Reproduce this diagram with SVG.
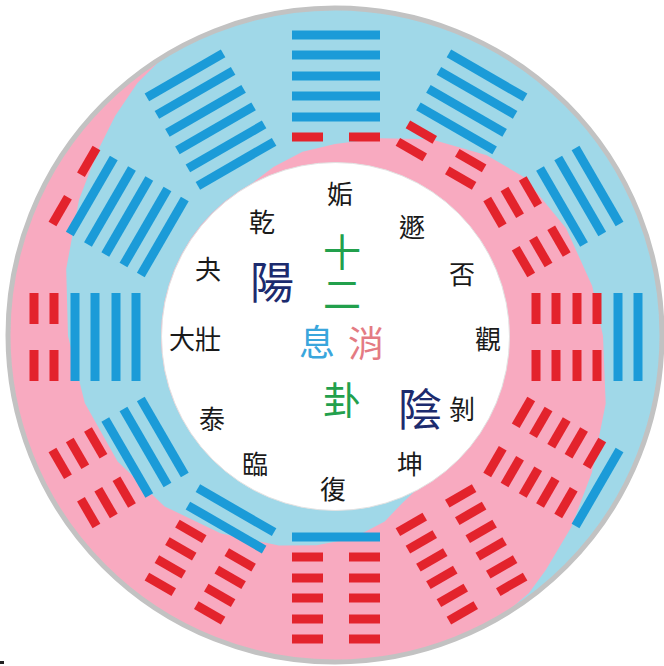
<svg xmlns="http://www.w3.org/2000/svg" xmlns:xlink="http://www.w3.org/1999/xlink" width="664" height="666" viewBox="0 0 664 666">
<style>
.yang{fill:#1b9bd8}
.yin{fill:#e3232c}
.name{font-family:"Noto Sans CJK TC","Noto Sans CJK SC",sans-serif;font-size:26px;fill:#1a1a1a;text-anchor:middle;dominant-baseline:central}
.big{font-family:"Noto Sans CJK TC","Noto Sans CJK SC",sans-serif;text-anchor:middle;dominant-baseline:central}
.green{fill:#22a04c;font-size:38px}
.navy{fill:#1c2b6e;font-size:44px}
</style>
<defs>
<rect id="yangbar" x="-44" y="-4.5" width="88" height="9"/>
<g id="yinbar"><rect x="-44" y="-4.5" width="31" height="9"/><rect x="13" y="-4.5" width="31" height="9"/></g>
</defs>
<rect x="0" y="0" width="664" height="666" fill="#ffffff"/>
<g id="ring">
<circle cx="335" cy="335" r="327" fill="#f8aac0"/>
<path fill="#a0d8e8" d="M416.7,489.6 L402.4,502.9 L384.7,521.5 L352.7,538.2 L316.7,545.2 L278.8,545.6 L221,533.4 L164.6,506.4 L117.6,461.5 L84.8,403.0 L68,336 L66.2,269.0 L79.0,199.8 L97.8,150.7 L115.1,116.1 L137.4,83.0 L161.7,58.7 A327 327 0 0 1 618.2,172.5 A327 327 0 0 1 498.5,619.2 L528.8,593.2 L545.8,570.1 L571.2,527.3 L591.9,472.6 L605.7,403.5 L603,336 L592.2,286.0 L566.1,228.2 L524.2,177.2 L486.7,155.2 L431.0,139.2 L380.7,138.2 L335,144 L302.5,151.8 L273.4,166.9 L253.3,182.4 A174 174 0 0 0 181.4,417.7 A174 174 0 0 0 416.7,489.6 Z"/>
<circle cx="335.5" cy="336.5" r="174" fill="#ffffff" stroke="#e2e2e2" stroke-width="1"/>
<circle cx="335" cy="335" r="327" fill="none" stroke="#c2c2c2" stroke-width="5"/>
</g>
<g id="hex-gou" transform="translate(336 337)">
<use xlink:href="#yinbar" class="yin" y="-200"/><use xlink:href="#yangbar" class="yang" y="-220"/><use xlink:href="#yangbar" class="yang" y="-241"/><use xlink:href="#yangbar" class="yang" y="-261"/><use xlink:href="#yangbar" class="yang" y="-282"/><use xlink:href="#yangbar" class="yang" y="-302"/>
</g>
<g id="hex-dun" transform="translate(336 337) rotate(30)">
<use xlink:href="#yinbar" class="yin" y="-200"/><use xlink:href="#yinbar" class="yin" y="-220"/><use xlink:href="#yangbar" class="yang" y="-241"/><use xlink:href="#yangbar" class="yang" y="-261"/><use xlink:href="#yangbar" class="yang" y="-282"/><use xlink:href="#yangbar" class="yang" y="-302"/>
</g>
<g id="hex-pi" transform="translate(336 337) rotate(60)">
<use xlink:href="#yinbar" class="yin" y="-200"/><use xlink:href="#yinbar" class="yin" y="-220"/><use xlink:href="#yinbar" class="yin" y="-241"/><use xlink:href="#yangbar" class="yang" y="-261"/><use xlink:href="#yangbar" class="yang" y="-282"/><use xlink:href="#yangbar" class="yang" y="-302"/>
</g>
<g id="hex-guan" transform="translate(336 337) rotate(90)">
<use xlink:href="#yinbar" class="yin" y="-200"/><use xlink:href="#yinbar" class="yin" y="-220"/><use xlink:href="#yinbar" class="yin" y="-241"/><use xlink:href="#yinbar" class="yin" y="-261"/><use xlink:href="#yangbar" class="yang" y="-282"/><use xlink:href="#yangbar" class="yang" y="-302"/>
</g>
<g id="hex-bo" transform="translate(336 337) rotate(120)">
<use xlink:href="#yinbar" class="yin" y="-200"/><use xlink:href="#yinbar" class="yin" y="-220"/><use xlink:href="#yinbar" class="yin" y="-241"/><use xlink:href="#yinbar" class="yin" y="-261"/><use xlink:href="#yinbar" class="yin" y="-282"/><use xlink:href="#yangbar" class="yang" y="-302"/>
</g>
<g id="hex-kun" transform="translate(336 337) rotate(150)">
<use xlink:href="#yinbar" class="yin" y="-200"/><use xlink:href="#yinbar" class="yin" y="-220"/><use xlink:href="#yinbar" class="yin" y="-241"/><use xlink:href="#yinbar" class="yin" y="-261"/><use xlink:href="#yinbar" class="yin" y="-282"/><use xlink:href="#yinbar" class="yin" y="-302"/>
</g>
<g id="hex-fu" transform="translate(336 337) rotate(180)">
<use xlink:href="#yangbar" class="yang" y="-200"/><use xlink:href="#yinbar" class="yin" y="-220"/><use xlink:href="#yinbar" class="yin" y="-241"/><use xlink:href="#yinbar" class="yin" y="-261"/><use xlink:href="#yinbar" class="yin" y="-282"/><use xlink:href="#yinbar" class="yin" y="-302"/>
</g>
<g id="hex-lin" transform="translate(336 337) rotate(210)">
<use xlink:href="#yangbar" class="yang" y="-200"/><use xlink:href="#yangbar" class="yang" y="-220"/><use xlink:href="#yinbar" class="yin" y="-241"/><use xlink:href="#yinbar" class="yin" y="-261"/><use xlink:href="#yinbar" class="yin" y="-282"/><use xlink:href="#yinbar" class="yin" y="-302"/>
</g>
<g id="hex-tai" transform="translate(336 337) rotate(240)">
<use xlink:href="#yangbar" class="yang" y="-200"/><use xlink:href="#yangbar" class="yang" y="-220"/><use xlink:href="#yangbar" class="yang" y="-241"/><use xlink:href="#yinbar" class="yin" y="-261"/><use xlink:href="#yinbar" class="yin" y="-282"/><use xlink:href="#yinbar" class="yin" y="-302"/>
</g>
<g id="hex-dazhuang" transform="translate(336 337) rotate(270)">
<use xlink:href="#yangbar" class="yang" y="-200"/><use xlink:href="#yangbar" class="yang" y="-220"/><use xlink:href="#yangbar" class="yang" y="-241"/><use xlink:href="#yangbar" class="yang" y="-261"/><use xlink:href="#yinbar" class="yin" y="-282"/><use xlink:href="#yinbar" class="yin" y="-302"/>
</g>
<g id="hex-guai" transform="translate(336 337) rotate(300)">
<use xlink:href="#yangbar" class="yang" y="-200"/><use xlink:href="#yangbar" class="yang" y="-220"/><use xlink:href="#yangbar" class="yang" y="-241"/><use xlink:href="#yangbar" class="yang" y="-261"/><use xlink:href="#yangbar" class="yang" y="-282"/><use xlink:href="#yinbar" class="yin" y="-302"/>
</g>
<g id="hex-qian" transform="translate(336 337) rotate(330)">
<use xlink:href="#yangbar" class="yang" y="-200"/><use xlink:href="#yangbar" class="yang" y="-220"/><use xlink:href="#yangbar" class="yang" y="-241"/><use xlink:href="#yangbar" class="yang" y="-261"/><use xlink:href="#yangbar" class="yang" y="-282"/><use xlink:href="#yangbar" class="yang" y="-302"/>
</g>
<g id="names">
<text class="name" x="340" y="192">姤</text>
<text class="name" x="412" y="225">遯</text>
<text class="name" x="462" y="272">否</text>
<text class="name" x="488" y="337">觀</text>
<text class="name" x="462" y="407">剝</text>
<text class="name" x="410" y="462">坤</text>
<text class="name" x="333" y="487">復</text>
<text class="name" x="255" y="462">臨</text>
<text class="name" x="212" y="417">泰</text>
<text class="name" x="195" y="337">大壯</text>
<text class="name" x="208" y="267">夬</text>
<text class="name" x="262" y="220">乾</text>
</g>
<g id="center">
<text class="big green" x="342" y="275" writing-mode="vertical-rl" letter-spacing="4">十二</text>
<text class="big" x="317" y="340" font-size="36" fill="#3aa6dc">息</text>
<text class="big" x="366" y="341" font-size="36" fill="#e47b83">消</text>
<text class="big green" x="342" y="397">卦</text>
<text class="big navy" x="272" y="280">陽</text>
<text class="big navy" x="420" y="407">陰</text>
</g>
<rect x="0" y="661" width="4" height="3" fill="#222222"/>
</svg>
